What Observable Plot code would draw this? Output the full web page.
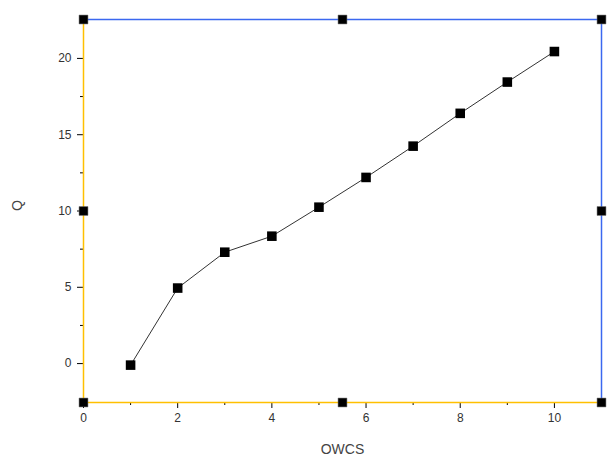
<!DOCTYPE html>
<html>
<head>
<meta charset="utf-8">
<script src="https://cdn.jsdelivr.net/npm/d3@7"></script>
<script src="https://cdn.jsdelivr.net/npm/@observablehq/plot@0.6"></script>
<style>
  html, body { margin: 0; padding: 0; background: #fff; }
  svg { display: block; }
</style>
</head>
<body>
<div id="chart"></div>
<script>
const owcs = [1, 2, 3, 4, 5, 6, 7, 8, 9, 10];
const q = [-0.1, 4.95, 7.3, 8.35, 10.25, 12.2, 14.25, 16.4, 18.45, 20.45];
const xDomain = [0, 11];
const yDomain = [-2.55, 22.55];
const xMajor = [0, 2, 4, 6, 8, 10];
const xMinor = [1, 3, 5, 7, 9];
const yMajor = [0, 5, 10, 15, 20];
const yMinor = [2.5, 7.5, 12.5, 17.5];
const anchorX = [0, 5.5, 11, 0, 11, 0, 5.5, 11];
const anchorY = [22.55, 22.55, 22.55, 10, 10, -2.55, -2.55, -2.55];

const data = owcs.map((x, i) => ({x, y: q[i]}));
const anchors = anchorX.map((x, i) => ({x, y: anchorY[i]}));

const yellow = "#FFC000";
const blue = "#3B68F0";
const font = "Arial, 'Liberation Sans', sans-serif";

const chart = Plot.plot({
  width: 614,
  height: 461,
  marginLeft: 83,
  marginRight: 13,
  marginTop: 19,
  marginBottom: 59,
  style: {fontFamily: font, fontSize: "12px", color: "#333", background: "#fff"},
  x: {domain: xDomain},
  y: {domain: yDomain},
  marks: [
    Plot.axisX({ticks: xMajor, tickSize: 6, tickPadding: 5, tickFormat: d => d, label: null, stroke: "#000", fill: "#333"}),
    Plot.axisX({ticks: xMinor, tickSize: 3, tickFormat: () => "", label: null, stroke: "#000"}),
    Plot.axisY({ticks: yMajor, tickSize: 6, tickPadding: 6, tickFormat: d => d, label: null, stroke: "#000", fill: "#333"}),
    Plot.axisY({ticks: yMinor, tickSize: 3, tickFormat: () => "", label: null, stroke: "#000"}),
    Plot.ruleY([yDomain[1]], {stroke: blue, strokeWidth: 1.5}),
    Plot.ruleX([xDomain[1]], {stroke: blue, strokeWidth: 1.5}),
    Plot.ruleX([xDomain[0]], {stroke: yellow, strokeWidth: 1.5}),
    Plot.ruleY([yDomain[0]], {stroke: yellow, strokeWidth: 1.5}),
    Plot.line(data, {x: "x", y: "y", stroke: "#333", strokeWidth: 1}),
    Plot.dot(data, {x: "x", y: "y", symbol: "square", r: 5.4, fill: "#000", stroke: "none"}),
    Plot.dot(anchors, {x: "x", y: "y", symbol: "square", r: 5, fill: "#000", stroke: "#666", strokeWidth: 0.5}),
    Plot.text(["OWCS"], {frameAnchor: "bottom", dy: 51, fontSize: 14, fill: "#444"}),
    Plot.text(["Q"], {frameAnchor: "left", dx: -66, rotate: -90, fontSize: 14, fill: "#444"})
  ]
});
document.getElementById("chart").appendChild(chart);
</script>
</body>
</html>
